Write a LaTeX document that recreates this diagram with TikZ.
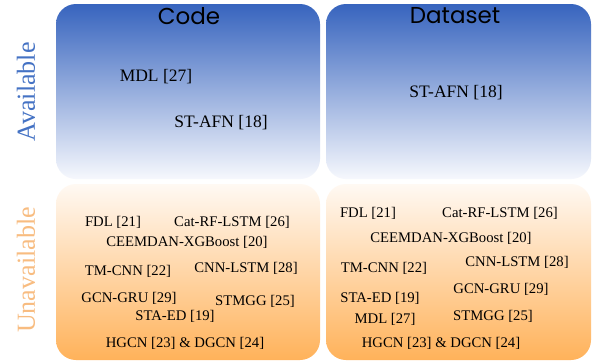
\documentclass[tikz,border=0pt]{standalone}
\usepackage{fontspec}
\setmainfont{Liberation Serif}
\newfontfamily\titlefont{Poppins}
\definecolor{blueT}{RGB}{55,100,190}
\definecolor{blueB}{RGB}{246,248,253}
\definecolor{orT}{RGB}{255,249,243}
\definecolor{orB}{RGB}{255,178,90}
\definecolor{availc}{RGB}{68,114,196}
\definecolor{unavailc}{RGB}{248,188,128}
\begin{document}
\begin{tikzpicture}[x=1pt,y=-1pt,
  topbox/.style={top color=blueT,bottom color=blueB,rounded corners=20pt},
  botbox/.style={top color=orT,bottom color=orB,rounded corners=20pt},
  big/.style={font=\fontsize{17.5}{20}\selectfont,inner sep=0pt},
  small/.style={font=\fontsize{14.7}{17}\selectfont,inner sep=0pt},
  ttl/.style={font=\titlefont\fontsize{23}{26}\selectfont,inner sep=0pt},
  side/.style={font=\fontsize{26}{30}\selectfont,inner sep=0pt,rotate=90}]
\useasboundingbox (0,0) rectangle (592,362);
\fill[white] (0,0) rectangle (592,362);
\shade[topbox] (56,4) rectangle (320,179);
\shade[topbox] (326,4) rectangle (591,179);
\shade[botbox] (56,184) rectangle (320,360);
\shade[botbox] (326,184) rectangle (591,360);
\node[ttl] (code) at (189,16) {Code};
\node[ttl] (data) at (455,16) {Dataset};
\node[side,text=availc] (avail) at (26,92) {Available};
\node[side,text=unavailc] (unavail) at (26,270) {Unavailable};
% top-left
\node[big] (a1) at (156,77) {MDL [27]};
\node[big] (a2) at (221,123) {ST-AFN [18]};
% top-right
\node[big] (b1) at (456,93) {ST-AFN [18]};
% bottom-left
\node[small] (c1) at (113,222) {FDL [21]};
\node[small] (c2) at (232,222) {Cat-RF-LSTM [26]};
\node[small] (c3) at (187,242) {CEEMDAN-XGBoost [20]};
\node[small] (c4) at (128,271) {TM-CNN [22]};
\node[small] (c5) at (246,268) {CNN-LSTM [28]};
\node[small] (c6) at (129,298) {GCN-GRU [29]};
\node[small] (c7) at (255,301) {STMGG [25]};
\node[small] (c8) at (175,316) {STA-ED [19]};
\node[small] (c9) at (185,343) {HGCN [23] \& DGCN [24]};
% bottom-right
\node[small] (d1) at (368,213) {FDL [21]};
\node[small] (d2) at (500,213) {Cat-RF-LSTM [26]};
\node[small] (d3) at (451,238) {CEEMDAN-XGBoost [20]};
\node[small] (d4) at (384,268) {TM-CNN [22]};
\node[small] (d5) at (517,262) {CNN-LSTM [28]};
\node[small] (d6) at (501,289) {GCN-GRU [29]};
\node[small] (d7) at (380,298) {STA-ED [19]};
\node[small] (d8) at (493,316) {STMGG [25]};
\node[small] (d9) at (385,319) {MDL [27]};
\node[small] (d10) at (441,343) {HGCN [23] \& DGCN [24]};
\end{tikzpicture}
\end{document}
